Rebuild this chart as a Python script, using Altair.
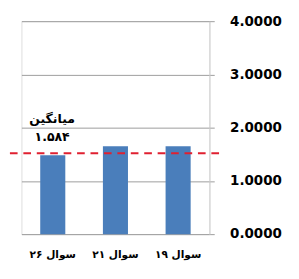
import altair as alt
import pandas as pd

categories = ["سوال ۲۶", "سوال ۲۱", "سوال ۱۹"]
values = [1.48, 1.65, 1.65]
mean_line = 1.52
mean_title = "میانگین"
mean_label = "۱.۵۸۴"
y_ticks = [0, 1, 2, 3, 4]

df = pd.DataFrame({"cat": categories, "val": values})
mean_df = pd.DataFrame({"y": [mean_line]})
ann_df = pd.DataFrame({"t": [mean_title, mean_label], "y": [2.16, 1.82]})

FONT = "DejaVu Sans"

bars = alt.Chart(df).mark_bar(color="#4A7EBB").encode(
    x=alt.X("cat:N", sort=categories,
            scale=alt.Scale(paddingInner=0.6, paddingOuter=0.3),
            axis=alt.Axis(title=None, labelAngle=0, domain=False, ticks=False,
                          labelFont=FONT, labelFontSize=11, labelFontWeight="bold",
                          labelColor="black", labelPadding=15)),
    y=alt.Y("val:Q", scale=alt.Scale(domain=[0, 4], nice=False),
            axis=alt.Axis(orient="right", values=y_ticks, format=".4f", title=None,
                          grid=True, gridColor="#9a9a9a", gridWidth=1,
                          domain=True, domainColor="#d0d0d0", tickColor="#9a9a9a",
                          tickSize=5, labelFont=FONT, labelFontSize=14,
                          labelFontWeight="bold", labelColor="black", labelPadding=16)),
)

rule = alt.Chart(mean_df).mark_rule(color="#E02030", strokeWidth=2, strokeDash=[8, 6]).encode(
    y="y:Q", x=alt.value(-12), x2=alt.value(206)
)

ann = alt.Chart(ann_df).mark_text(font=FONT, fontSize=13, fontWeight="bold",
                                  color="black", align="center").encode(
    y="y:Q", x=alt.value(32), text="t:N"
)

chart = (bars + rule + ann).properties(
    width=196, height=222,
    autosize=alt.AutoSizeParams(type="none"),
    padding={"left": 14, "top": 8, "right": 85, "bottom": 41},
).configure_view(stroke=None).configure(background="white")

chart.save("out.html", embed_options={"renderer": "svg", "actions": False})
